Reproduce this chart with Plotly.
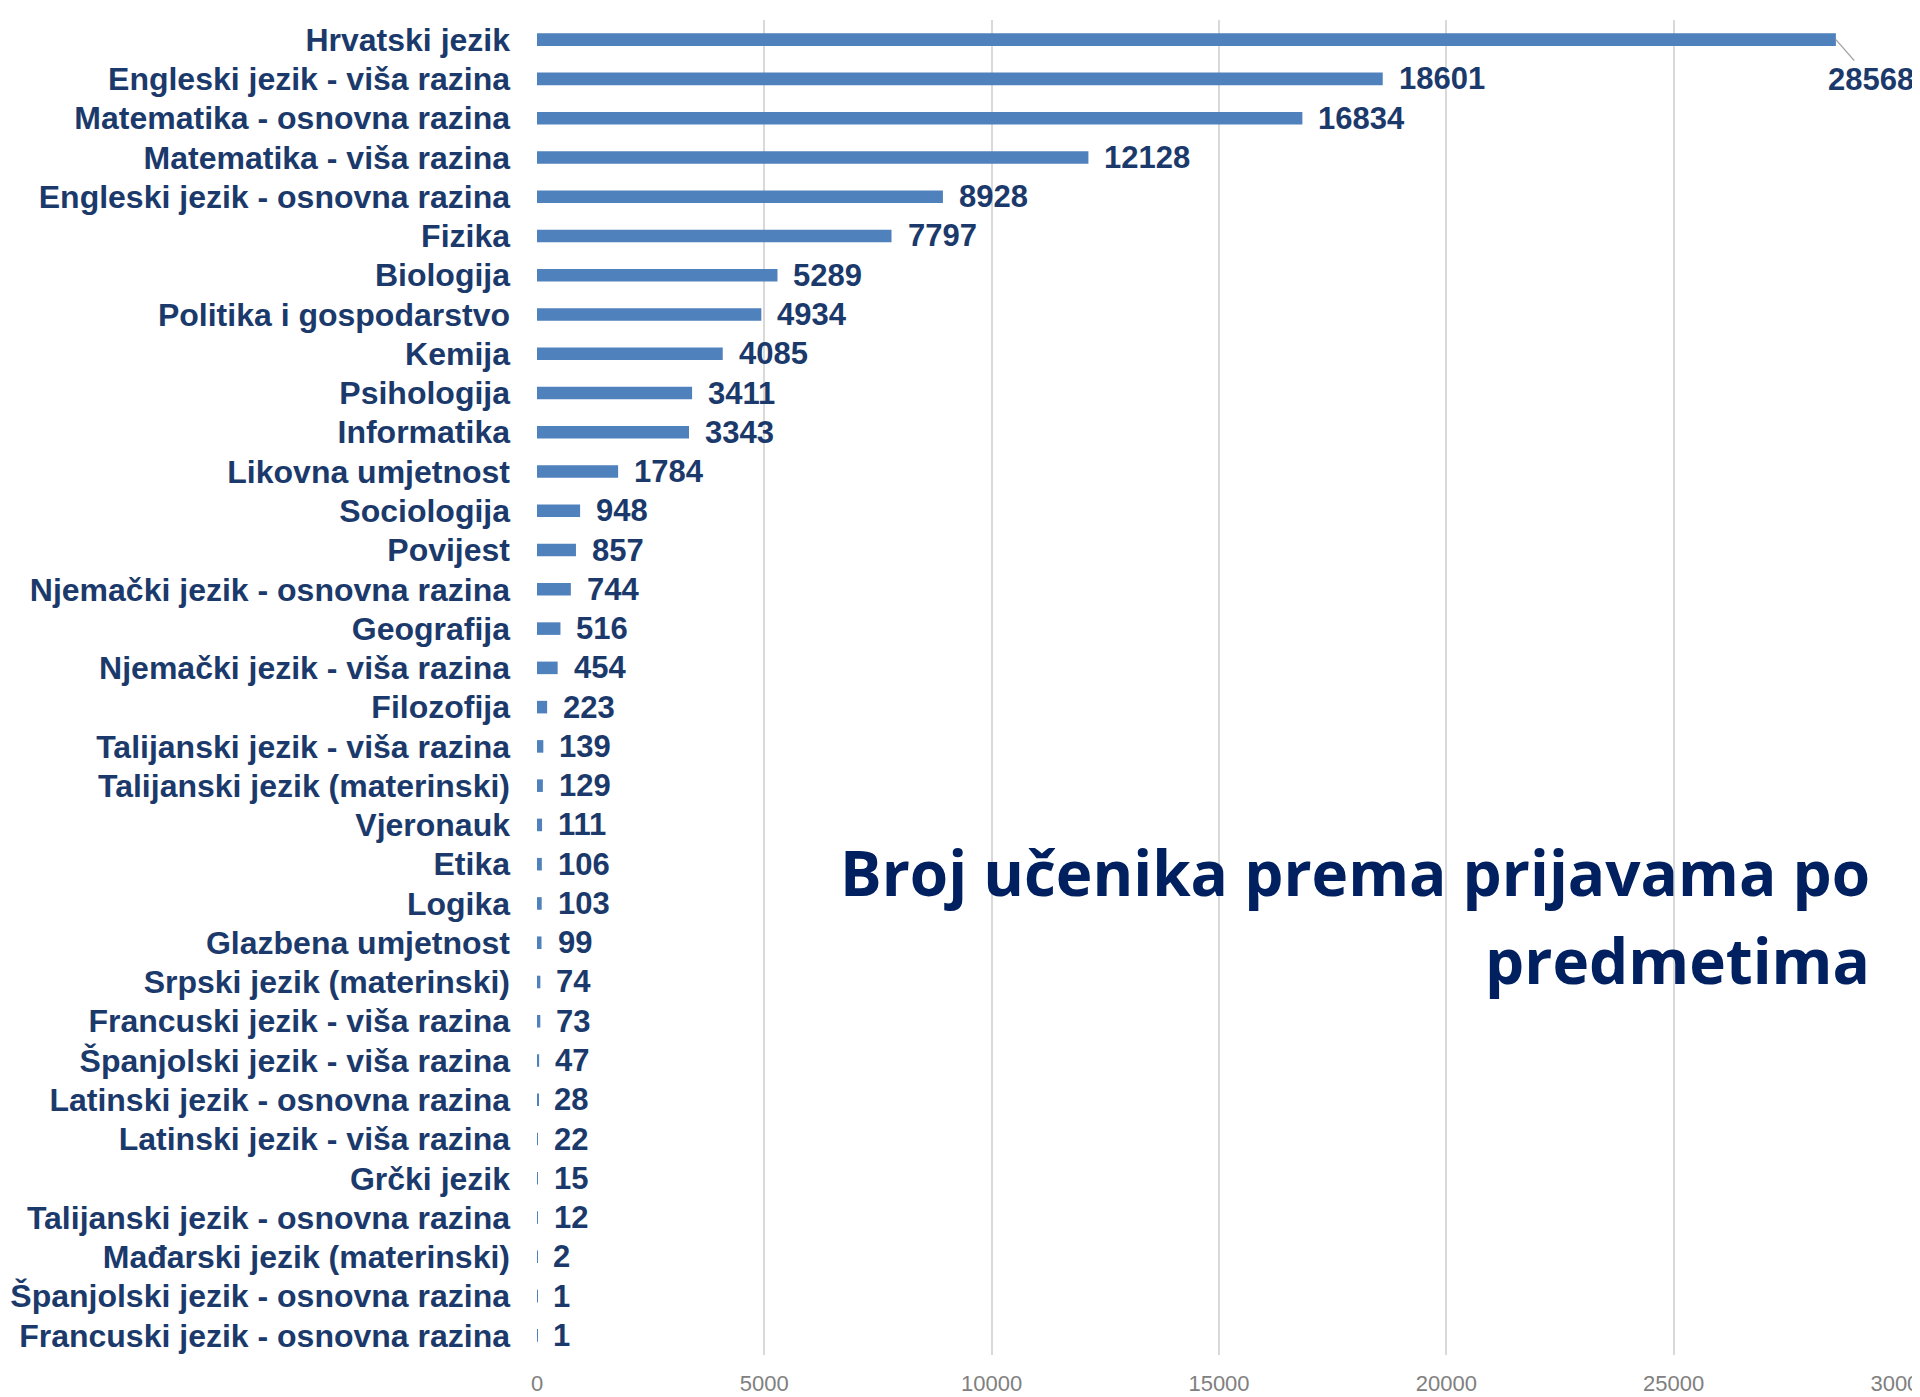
import plotly.graph_objects as go

subjects = [
    "Hrvatski jezik", "Engleski jezik - viša razina", "Matematika - osnovna razina",
    "Matematika - viša razina", "Engleski jezik - osnovna razina", "Fizika", "Biologija",
    "Politika i gospodarstvo", "Kemija", "Psihologija", "Informatika", "Likovna umjetnost",
    "Sociologija", "Povijest", "Njemački jezik - osnovna razina", "Geografija",
    "Njemački jezik - viša razina", "Filozofija", "Talijanski jezik - viša razina",
    "Talijanski jezik (materinski)", "Vjeronauk", "Etika", "Logika", "Glazbena umjetnost",
    "Srpski jezik (materinski)", "Francuski jezik - viša razina", "Španjolski jezik - viša razina",
    "Latinski jezik - osnovna razina", "Latinski jezik - viša razina", "Grčki jezik",
    "Talijanski jezik - osnovna razina", "Mađarski jezik (materinski)",
    "Španjolski jezik - osnovna razina", "Francuski jezik - osnovna razina",
]
students = [28568, 18601, 16834, 12128, 8928, 7797, 5289, 4934, 4085, 3411, 3343, 1784,
            948, 857, 744, 516, 454, 223, 139, 129, 111, 106, 103, 99, 74, 73, 47, 28, 22,
            15, 12, 2, 1, 1]
x_ticks = [0, 5000, 10000, 15000, 20000, 25000, 30000]
x_max = 30000
title_lines = ["Broj učenika prema prijavama po", "predmetima"]

BAR = "#4F81BD"
NAVY = "#1B3A6B"
LABEL_FONT = "Liberation Sans, Arial, sans-serif"

fig = go.Figure()
fig.add_trace(go.Bar(
    x=students, y=subjects, orientation="h",
    marker=dict(color=BAR, line=dict(width=0)),
    width=0.32, hoverinfo="x+y",
))

annotations = []
for i, (s, v) in enumerate(zip(subjects, students)):
    if i == 0:
        annotations.append(dict(
            x=v, y=s, xref="x", yref="y", text=f"<b>{v}</b>",
            showarrow=True, arrowhead=0, arrowwidth=1.5, arrowcolor="#A6A6A6",
            ax=35, ay=40, standoff=0,
            font=dict(family=LABEL_FONT, size=31, color=NAVY),
        ))
    else:
        annotations.append(dict(
            x=v, y=s, xref="x", yref="y", text=f"<b>{v}</b>",
            showarrow=False, xanchor="left", yanchor="middle", xshift=14,
            font=dict(family=LABEL_FONT, size=31, color=NAVY),
        ))

for line, ypos in zip(title_lines, [0.362, 0.296]):
    annotations.append(dict(
        x=0.9787, y=ypos, xref="paper", yref="paper", text=f"<b>{line}</b>",
        showarrow=False, xanchor="right", yanchor="middle", align="right",
        font=dict(family="Open Sans, Lato, sans-serif", size=62, color="#002060"),
    ))

# page body has an 8px margin: figure is offset by (8, 8)
fig.update_layout(
    width=1912, height=1389,
    margin=dict(l=529, r=19, t=12, b=42),
    paper_bgcolor="white", plot_bgcolor="white",
    showlegend=False,
    annotations=annotations,
    xaxis=dict(
        range=[0, x_max], tickvals=x_ticks, ticktext=[str(t) for t in x_ticks],
        showgrid=True, gridcolor="#D9D9D9", gridwidth=2, zeroline=False,
        showline=False, ticks="", ticklabelstandoff=13, automargin=False,
        ticklabeloverflow="allow",
        tickfont=dict(family="Liberation Sans, Arial, sans-serif", size=22, color="#808080"),
    ),
    yaxis=dict(
        categoryorder="array", categoryarray=subjects[::-1],
        showgrid=False, zeroline=False, showline=False, ticks="",
        ticklabelstandoff=26, automargin=False,
        tickfont=dict(family=LABEL_FONT, size=32, color=NAVY, weight="bold"),
    ),
)

fig.write_html("out.html")
